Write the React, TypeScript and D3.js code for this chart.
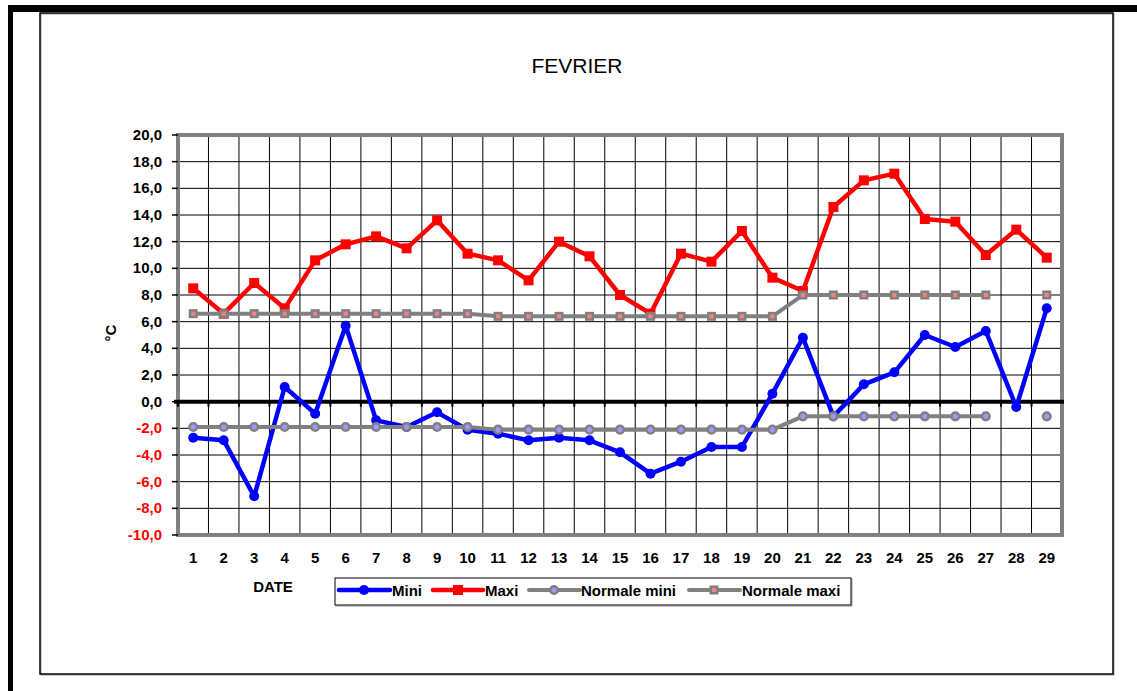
import React from 'react';
import * as d3 from 'd3';

const days = d3.range(1, 30).map(String);
const mini = [-2.7, -2.9, -7.1, 1.1, -0.9, 5.7, -1.4, -1.9, -0.8, -2.1, -2.4, -2.9, -2.7, -2.9, -3.8, -5.4, -4.5, -3.4, -3.4, 0.6, 4.8, -1.1, 1.3, 2.2, 5.0, 4.1, 5.3, -0.4, 7.0];
const maxi = [8.5, 6.6, 8.9, 7.0, 10.6, 11.8, 12.4, 11.5, 13.6, 11.1, 10.6, 9.1, 12.0, 10.9, 8.0, 6.6, 11.1, 10.5, 12.8, 9.3, 8.3, 14.6, 16.6, 17.1, 13.7, 13.5, 11.0, 12.9, 10.8];
const normaleMini = [-1.9, -1.9, -1.9, -1.9, -1.9, -1.9, -1.9, -1.9, -1.9, -1.9, -2.1, -2.1, -2.1, -2.1, -2.1, -2.1, -2.1, -2.1, -2.1, -2.1, -1.1, -1.1, -1.1, -1.1, -1.1, -1.1, -1.1, null, -1.1];
const normaleMaxi = [6.6, 6.6, 6.6, 6.6, 6.6, 6.6, 6.6, 6.6, 6.6, 6.6, 6.4, 6.4, 6.4, 6.4, 6.4, 6.4, 6.4, 6.4, 6.4, 6.4, 8.0, 8.0, 8.0, 8.0, 8.0, 8.0, 8.0, null, 8.0];
const yTicks = d3.range(-10, 21, 2);

const FONT = '"Liberation Sans", Arial, sans-serif';
const GRAY = '#808080';

export default function App() {
  const x = d3.scaleBand<string>().domain(days).range([178, 1062]);
  const y = d3.scaleLinear().domain([-10, 20]).range([535, 135]);
  const cx = (i: number) => (x(days[i]) as number) + x.bandwidth() / 2;

  const line = d3.line<number | null>()
    .defined(d => d !== null)
    .x((_, i) => cx(i))
    .y(d => y(d as number));

  const fmt = (v: number) => v.toFixed(1).replace('.', ',');
  const [x0, x1] = x.range();
  const [yb, yt] = y.range();

  return (
    <svg width={1137} height={691} style={{ position: 'absolute', left: 0, top: 0, background: '#fff' }}
      fontFamily={FONT}>
      {/* outer frame */}
      <rect x={8} y={5} width={1129} height={7} fill="#000" />
      <rect x={8} y={5} width={5} height={686} fill="#000" />
      <rect x={41} y={14} width={1073} height={661} fill="none" stroke="#999" strokeWidth={1} />
      <rect x={40} y={13} width={1073} height={661} fill="none" stroke="#000" strokeWidth={1.5} />

      <text x={577} y={73} textAnchor="middle" fontSize={21}>FEVRIER</text>

      {/* grid */}
      {yTicks.map(t => (
        <line key={'h' + t} x1={x0} x2={x1} y1={y(t)} y2={y(t)} stroke="#000" strokeWidth={1} />
      ))}
      {days.slice(1).map(d => (
        <line key={'v' + d} x1={x(d)} x2={x(d)} y1={yt} y2={yb} stroke="#000" strokeWidth={1} />
      ))}
      <rect x={x0} y={yt} width={x1 - x0} height={yb - yt} fill="none" stroke={GRAY} strokeWidth={4} />

      {/* y axis ticks and labels */}
      {yTicks.map(t => (
        <g key={'yt' + t}>
          <line x1={172} x2={178} y1={y(t)} y2={y(t)} stroke="#000" strokeWidth={1.5} />
          <text x={162} y={y(t) + 5} textAnchor="end" fontSize={15} fontWeight="bold"
            fill={t < 0 ? '#ff0000' : '#000'}>{fmt(t)}</text>
        </g>
      ))}

      {/* zero axis */}
      <line x1={174} x2={1064} y1={y(0)} y2={y(0)} stroke="#000" strokeWidth={4} />
      {days.map(d => (
        <line key={'zt' + d} x1={x(d)} x2={x(d)} y1={y(0)} y2={y(0) + 5} stroke="#000" strokeWidth={2} />
      ))}

      {/* x labels */}
      {days.map((d, i) => (
        <text key={'xl' + d} x={cx(i)} y={563} textAnchor="middle" fontSize={15} fontWeight="bold">{d}</text>
      ))}
      <text x={273} y={592} textAnchor="middle" fontSize={15} fontWeight="bold">DATE</text>
      <text transform="translate(116,333) rotate(-90)" textAnchor="middle" fontSize={15} fontWeight="bold">°C</text>

      {/* series */}
      <path d={line(mini) ?? ''} fill="none" stroke="#0000ff" strokeWidth={4.5} strokeLinejoin="round" />
      {mini.map((v, i) => <circle key={'mi' + i} cx={cx(i)} cy={y(v)} r={5} fill="#0000ff" />)}

      <path d={line(maxi) ?? ''} fill="none" stroke="#ff0000" strokeWidth={4.5} strokeLinejoin="round" />
      {maxi.map((v, i) => <rect key={'ma' + i} x={cx(i) - 5} y={y(v) - 5} width={10} height={10} fill="#ff0000" />)}

      <path d={line(normaleMini) ?? ''} fill="none" stroke={GRAY} strokeWidth={4} />
      {normaleMini.map((v, i) => v === null ? null : (
        <circle key={'nmi' + i} cx={cx(i)} cy={y(v)} r={3.8} fill="#9999ff" stroke={GRAY} strokeWidth={2.5} />
      ))}

      <path d={line(normaleMaxi) ?? ''} fill="none" stroke={GRAY} strokeWidth={4} />
      {normaleMaxi.map((v, i) => v === null ? null : (
        <g key={'nma' + i}>
          <rect x={cx(i) - 4.5} y={y(v) - 4.5} width={9} height={9} fill={GRAY} />
          <rect x={cx(i) - 2} y={y(v) - 2} width={4} height={4} fill="#ff8080" />
        </g>
      ))}

      {/* legend */}
      <rect x={336} y={579} width={516} height={27} fill="none" stroke="#999" strokeWidth={1} />
      <rect x={335} y={578} width={516} height={27} fill="#fff" stroke="#000" strokeWidth={1} />
      <line x1={339} x2={390} y1={590} y2={590} stroke="#0000ff" strokeWidth={4.5} strokeLinecap="round" />
      <circle cx={364} cy={590} r={5} fill="#0000ff" />
      <text x={392} y={596} fontSize={15} fontWeight="bold">Mini</text>

      <line x1={433} x2={483} y1={590} y2={590} stroke="#ff0000" strokeWidth={4.5} strokeLinecap="round" />
      <rect x={453} y={585} width={10} height={10} fill="#ff0000" />
      <text x={485} y={596} fontSize={15} fontWeight="bold">Maxi</text>

      <line x1={529} x2={580} y1={590} y2={590} stroke={GRAY} strokeWidth={4} strokeLinecap="round" />
      <circle cx={554} cy={590} r={3.8} fill="#9999ff" stroke={GRAY} strokeWidth={2.5} />
      <text x={581} y={596} fontSize={15} fontWeight="bold">Normale mini</text>

      <line x1={689} x2={740} y1={590} y2={590} stroke={GRAY} strokeWidth={4} strokeLinecap="round" />
      <rect x={709.5} y={585.5} width={9} height={9} fill={GRAY} />
      <rect x={712} y={588} width={4} height={4} fill="#ff8080" />
      <text x={742} y={596} fontSize={15} fontWeight="bold">Normale maxi</text>
    </svg>
  );
}
